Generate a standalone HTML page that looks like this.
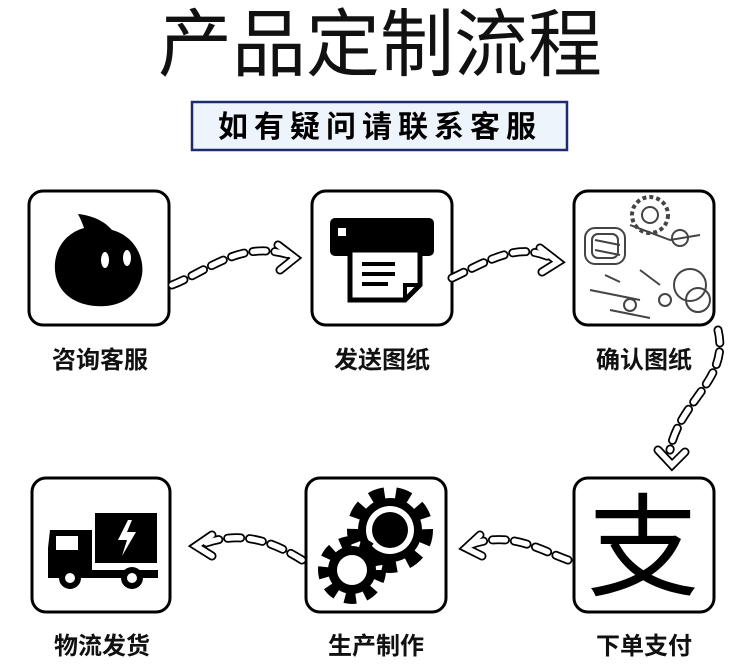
<!DOCTYPE html>
<html><head><meta charset="utf-8"><style>
body{margin:0;background:#fff;width:750px;height:668px;overflow:hidden}
svg{display:block}
text{font-family:"Liberation Sans","Noto Sans CJK SC",sans-serif}
</style></head><body>
<svg width="750" height="668" viewBox="0 0 750 668">
<text x="380" y="70" font-size="74" text-anchor="middle" fill="#111">产品定制流程</text>
<rect x="192" y="102" width="375" height="48" fill="#eef4fb" stroke="#1f2a6e" stroke-width="2.5"/>
<text x="380" y="137" font-size="30" font-weight="bold" text-anchor="middle" letter-spacing="6" fill="#000">如有疑问请联系客服</text>

<g fill="#fff" stroke="#000" stroke-width="3">
<rect x="29" y="191" width="140" height="134" rx="14"/>
<rect x="312" y="191" width="140" height="134" rx="14"/>
<rect x="574" y="191" width="140" height="134" rx="14"/>
<rect x="32" y="478" width="138" height="134" rx="14"/>
<rect x="306" y="478" width="140" height="134" rx="14"/>
<rect x="574" y="478" width="140" height="134" rx="14"/>
</g>
<!-- icon1 -->
<path d="M78 214 C95 216 105 222 112 230 C132 235 145 255 142 275 C138 298 118 308 95 306 C70 304 53 288 55 263 C57 243 70 232 84 228 C82 222 80 218 78 214Z" fill="#000"/>
<ellipse cx="105" cy="260" rx="4" ry="8" fill="#fff"/><ellipse cx="127" cy="258" rx="4" ry="8" fill="#fff"/>
<!-- icon2 printer -->
<rect x="330" y="218" width="104" height="38" rx="5" fill="#000"/>
<rect x="338" y="228" width="8" height="8" fill="#fff"/>
<path d="M350 250 H420 V285 L405 300 H350Z" fill="#fff" stroke="#000" stroke-width="5"/>
<path d="M405 300 V285 H420" fill="none" stroke="#000" stroke-width="4"/>
<g stroke="#000" stroke-width="4"><line x1="362" y1="264" x2="395" y2="264"/><line x1="362" y1="274" x2="395" y2="274"/><line x1="362" y1="284" x2="388" y2="284"/></g>
<!-- icon3 sketch -->
<g fill="none" stroke="#444" stroke-width="2">
<rect x="585" y="228" width="40" height="36" rx="10"/><rect x="592" y="234" width="26" height="24" rx="6"/>
<circle cx="650" cy="215" r="18" stroke-dasharray="4 3" stroke-width="4"/><circle cx="650" cy="215" r="8"/>
<path d="M630 225 L670 240 L700 235"/><circle cx="680" cy="238" r="8"/>
<circle cx="690" cy="285" r="16"/><circle cx="698" cy="300" r="12"/><line x1="590" y1="290" x2="640" y2="300"/><circle cx="630" cy="305" r="6"/><circle cx="665" cy="300" r="6"/>
<line x1="595" y1="240" x2="620" y2="245"/><line x1="595" y1="250" x2="620" y2="255"/>
<path d="M605 275 L620 282 M640 270 L660 285 M610 310 L650 318"/></g>
<!-- icon4 truck -->
<rect x="95" y="513" width="62" height="50" fill="#000"/>
<path d="M128 520 L118 540 H127 L122 556 L136 532 H127 L132 520Z" fill="#fff"/>
<path d="M50 530 H92 V570 H48 V548Z" fill="#000"/>
<rect x="56" y="536" width="22" height="14" fill="#fff"/>
<rect x="48" y="570" width="110" height="8" fill="#000"/>
<circle cx="70" cy="578" r="11" fill="#000"/><circle cx="70" cy="578" r="5" fill="#fff"/>
<circle cx="132" cy="578" r="11" fill="#000"/><circle cx="132" cy="578" r="5" fill="#fff"/>
<!-- icon5 gears -->
<circle cx="390" cy="530" r="36" fill="none" stroke="#000" stroke-width="14" stroke-dasharray="14 11"/>
<circle cx="390" cy="530" r="32" fill="#000"/><circle cx="390" cy="530" r="24" fill="#fff"/><circle cx="390" cy="530" r="18" fill="#000"/>
<circle cx="352" cy="570" r="28" fill="none" stroke="#000" stroke-width="12" stroke-dasharray="11 9"/>
<circle cx="352" cy="570" r="24" fill="#000"/><circle cx="352" cy="570" r="15" fill="#fff"/>
<!-- icon6 -->
<text x="643" y="587" font-size="112" text-anchor="middle" fill="#000">支</text>

<g font-size="24" font-weight="bold" text-anchor="middle" fill="#111">
<text x="100" y="368">咨询客服</text><text x="382" y="368">发送图纸</text><text x="644" y="368">确认图纸</text>
<text x="102" y="654">物流发货</text><text x="376" y="654">生产制作</text><text x="644" y="654">下单支付</text>
</g>
<!-- connectors -->
<g fill="none" stroke-linecap="round">
<g stroke="#000" stroke-width="9">
<path d="M172 285 C210 270 240 240 290 255" stroke-dasharray="13 9"/>
<path d="M452 278 C490 260 520 240 555 260" stroke-dasharray="13 9"/>
<path d="M718 330 C730 380 680 400 670 450" stroke-dasharray="13 9"/>
<path d="M568 560 C540 550 510 530 470 545" stroke-dasharray="13 9"/>
<path d="M302 560 C270 540 240 530 200 545" stroke-dasharray="13 9"/>
<path d="M278 245 L295 258 L280 270"/><path d="M540 248 L558 262 L542 272"/>
<path d="M658 450 L672 465 L685 452"/><path d="M480 535 L466 548 L482 556"/><path d="M212 535 L196 546 L212 556"/>
</g>
<g stroke="#fff" stroke-width="5.5">
<path d="M172 285 C210 270 240 240 290 255" stroke-dasharray="13 9"/>
<path d="M452 278 C490 260 520 240 555 260" stroke-dasharray="13 9"/>
<path d="M718 330 C730 380 680 400 670 450" stroke-dasharray="13 9"/>
<path d="M568 560 C540 550 510 530 470 545" stroke-dasharray="13 9"/>
<path d="M302 560 C270 540 240 530 200 545" stroke-dasharray="13 9"/>
<path d="M278 245 L295 258 L280 270"/><path d="M540 248 L558 262 L542 272"/>
<path d="M658 450 L672 465 L685 452"/><path d="M480 535 L466 548 L482 556"/><path d="M212 535 L196 546 L212 556"/>
</g></g>
</svg>
</body></html>
